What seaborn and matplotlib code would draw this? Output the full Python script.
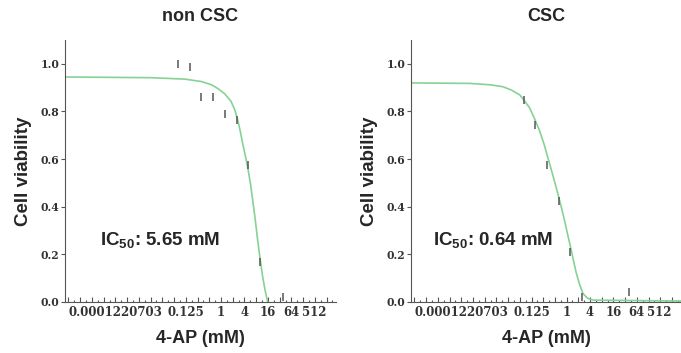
import numpy as np
import pandas as pd
import matplotlib
matplotlib.use('Agg')
import matplotlib.pyplot as plt
import seaborn as sns
from matplotlib.ticker import FixedLocator, FixedFormatter, NullFormatter

# Measured points (4-AP concentration in mM, cell viability)
noncsc_conc = [0.078, 0.156, 0.3125, 0.625, 1.25, 2.5, 5, 10, 40]
noncsc_viab = [1.00, 0.985, 0.86, 0.86, 0.79, 0.765, 0.577, 0.169, 0.02]
csc_conc = [0.078, 0.156, 0.3125, 0.625, 1.25, 2.5, 40]
csc_viab = [0.85, 0.745, 0.575, 0.425, 0.21, 0.02, 0.04]

# Fitted curves
noncsc_fit_x = [0.0001, 0.0156, 0.117, 0.31, 0.574, 0.82, 1.23, 1.80, 2.22, 2.68,
                3.14, 3.6, 4.2, 4.82, 5.66, 6.5, 7.57, 8.7, 10.1, 11.7, 13.5, 15.7]
noncsc_fit_y = [0.945, 0.942, 0.936, 0.926, 0.912, 0.897, 0.875, 0.843, 0.81, 0.765,
                0.715, 0.665, 0.615, 0.566, 0.50, 0.427, 0.345, 0.26, 0.18, 0.106, 0.05, 0.0]
csc_fit_x = [0.0001, 0.0032, 0.011, 0.023, 0.038, 0.062, 0.082, 0.112, 0.149, 0.20,
             0.26, 0.33, 0.42, 0.54, 0.70, 0.89, 1.09, 1.32, 1.54, 1.78, 2.14, 2.62,
             3.48, 4.76, 900]
csc_fit_y = [0.92, 0.918, 0.912, 0.904, 0.89, 0.87, 0.845, 0.815, 0.77, 0.72,
             0.665, 0.605, 0.545, 0.48, 0.41, 0.34, 0.275, 0.217, 0.165, 0.12, 0.075, 0.036,
             0.015, 0.008, 0.004]

titles = ['non CSC', 'CSC']
ic50_labels = ['5.65 mM', '0.64 mM']
xtick_labels = {-13: '0.0001220703', -3: '0.125', 0: '1', 2: '4', 4: '16', 6: '64', 9: '512'}
ytick_values = [0.0, 0.2, 0.4, 0.6, 0.8, 1.0]

sns.set_style('ticks')
plt.rcParams['font.family'] = ['Liberation Sans', 'DejaVu Sans']
plt.rcParams['mathtext.fontset'] = 'custom'
plt.rcParams['mathtext.bf'] = 'Liberation Sans:bold'
plt.rcParams['mathtext.rm'] = 'Liberation Sans'

fig = plt.figure(figsize=(6.81, 3.53), dpi=100)
ax1 = fig.add_axes([0.0954, 0.1445, 0.398, 0.742])
ax2 = fig.add_axes([0.6035, 0.1445, 0.397, 0.742])

green = '#86d294'
grey = '#555555'

panels = [
    (ax1, noncsc_conc, noncsc_viab, noncsc_fit_x, noncsc_fit_y),
    (ax2, csc_conc, csc_viab, csc_fit_x, csc_fit_y),
]

powers = list(range(-13, 10))

for i, (ax, cx, cy, fx, fy) in enumerate(panels):
    fit = pd.DataFrame({'conc': fx, 'viab': fy})
    pts = pd.DataFrame({'conc': cx, 'viab': cy})
    sns.lineplot(data=fit, x='conc', y='viab', ax=ax, color=green, linewidth=1.2)
    sns.scatterplot(data=pts, x='conc', y='viab', ax=ax, marker='|', s=40,
                    color=grey, linewidth=1.1, zorder=3)
    ax.set_xscale('log', base=2)
    ax.set_xlim(2 ** -13.3, 2 ** 9.8)
    ax.set_ylim(0, 1.1)

    # tall tick at every power of two, short one half way between
    ax.xaxis.set_major_locator(FixedLocator([2.0 ** k for k in powers]))
    ax.xaxis.set_major_formatter(FixedFormatter([xtick_labels.get(k, '') for k in powers]))
    ax.xaxis.set_minor_locator(FixedLocator([2.0 ** (k + 0.5) for k in range(-14, 10)]))
    ax.xaxis.set_minor_formatter(NullFormatter())
    ax.tick_params(axis='x', which='major', direction='in', length=3.5, width=0.8,
                   color=grey, pad=3)
    ax.tick_params(axis='x', which='minor', direction='in', length=1.8, width=0.8,
                   color=grey)
    ax.set_yticks(ytick_values)
    ax.set_yticklabels([f'{v:.1f}' for v in ytick_values])
    ax.tick_params(axis='y', direction='out', length=3, width=0.8, color=grey, pad=1)

    for lab in ax.get_xticklabels():
        lab.set_fontfamily('DejaVu Serif')
        lab.set_fontweight('bold')
        lab.set_fontsize(8.5)
        lab.set_color('#333333')
    for lab in ax.get_yticklabels():
        lab.set_fontfamily('DejaVu Serif')
        lab.set_fontweight('bold')
        lab.set_fontsize(7.8)
        lab.set_color('#333333')
    xl = ax.get_xticklabels()
    xl[0].set_horizontalalignment('left')
    xl[-1].set_horizontalalignment('right')

    for side in ['top', 'right']:
        ax.spines[side].set_visible(False)
    for side in ['left', 'bottom']:
        ax.spines[side].set_color(grey)
        ax.spines[side].set_linewidth(0.8)

    ax.set_xlabel('4-AP (mM)', fontsize=13, fontweight='bold', labelpad=8)
    ax.set_ylabel('Cell viability', fontsize=13.5, fontweight='bold', labelpad=6)
    ax.set_title(titles[i], fontsize=13, fontweight='bold', pad=14)
    ax.text(0.129 if i == 0 else 0.081, 0.237,
            r'$\mathbf{IC_{50}}$: ' + ic50_labels[i],
            transform=ax.transAxes, fontsize=13.5, fontweight='bold', va='center')

fig.savefig('out.png', dpi=100)
